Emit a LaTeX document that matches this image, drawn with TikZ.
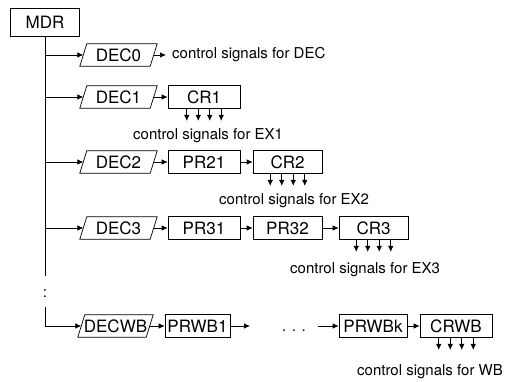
\documentclass[tikz,border=0pt]{standalone}
\usepackage{fontspec}
\setmainfont{TeX Gyre Heros}
\usetikzlibrary{arrows.meta}
\begin{document}
\begin{tikzpicture}[x=1pt,y=-1pt,
  every node/.style={font=\fontsize{17}{19}\selectfont},
  reg/.style={draw, rectangle, minimum height=23pt, inner sep=0pt, line width=0.7pt},
  dec/.style={rectangle, minimum width=70pt, minimum height=22pt, inner sep=0pt},
  sig/.style={font=\fontsize{15}{17}\selectfont, inner sep=0pt, anchor=west},
  arr/.style={-{Latex[length=6pt,width=5.5pt]}, line width=0.7pt},
  wire/.style={line width=0.7pt}]
\useasboundingbox (0,0) rectangle (525,382);

% memory data register
\node[reg, minimum width=69pt, minimum height=28pt] (mdr) at (45,22) {MDR};

% decoders (slanted outlines drawn below)
\node[dec] (d0) at (118.5,55) {DEC0};
\node[dec] (d1) at (118.5,97) {DEC1};
\node[dec] (d2) at (118.5,162) {DEC2};
\node[dec] (d3) at (118.5,228) {DEC3};
\node[dec, minimum width=68pt] (dwb) at (115.5,326) {DECWB};
\foreach \d in {d0,d1,d2,d3,dwb}
  \draw[wire] ([xshift=-3.5pt]\d.south west) -- ([xshift=3.5pt]\d.north west)
    -- ([xshift=3.5pt]\d.north east) -- ([xshift=-3.5pt]\d.south east) -- cycle;

% pipeline registers and control registers
\node[reg, minimum width=72pt] (cr1)   at (204,97)  {CR1};
\node[reg, minimum width=72pt] (pr21)  at (204,162) {PR21};
\node[reg, minimum width=69pt] (cr2)   at (287.5,162) {CR2};
\node[reg, minimum width=72pt] (pr31)  at (204,228) {PR31};
\node[reg, minimum width=69pt] (pr32)  at (287.5,228) {PR32};
\node[reg, minimum width=69pt] (cr3)   at (373.5,228) {CR3};
\node[reg, minimum width=65pt] (prwb1) at (197.5,326) {PRWB1};
\node[reg, minimum width=68pt] (prwbk) at (373,326) {PRWBk};
\node[reg, minimum width=72pt] (crwb)  at (456,326) {CRWB};

% signal labels
\node[sig] (s0)  at (172,55)  {control signals for DEC};
\node[sig] (s1)  at (133,136) {control signals for EX1};
\node[sig] (s2)  at (219,201) {control signals for EX2};
\node[sig] (s3)  at (290,270) {control signals for EX3};
\node[sig] (swb) at (357,372) {control signals for WB};

% trunk from MDR with elided part
\coordinate (gap1) at (45,276);
\node[font=\fontsize{15}{17}\selectfont, inner sep=0pt] (vd) at (45,294) {:};
\coordinate (gap2) at (45,307);
\draw[wire] (mdr.south) -- (gap1);
\draw[arr] (gap2) |- (dwb.west);
\foreach \d in {d0,d1,d2,d3}
  \draw[arr] (mdr.south |- \d.west) -- (\d.west);

% row connections
\draw[arr, shorten >=6pt] (d0.east) -- (s0.west);
\draw[arr] (d1.east) -- (cr1.west);
\draw[arr] (d2.east) -- (pr21.west);
\draw[arr] (pr21.east) -- (cr2.west);
\draw[arr] (d3.east) -- (pr31.west);
\draw[arr] (pr31.east) -- (pr32.west);
\draw[arr] (pr32.east) -- (cr3.west);
\draw[arr] (dwb.east) -- (prwb1.west);
\coordinate (wbg1) at (250,326);
\node[font=\fontsize{15}{17}\selectfont, inner sep=0pt, anchor=base] (dots) at (294,331) {. . .};
\coordinate (wbg2) at (318,326);
\draw[arr] (prwb1.east) -- (wbg1);
\draw[arr] (wbg2) -- (prwbk.west);
\draw[arr] (prwbk.east) -- (crwb.west);

% control signal fan-out
\foreach \c in {cr1,cr2,cr3,crwb}
  \foreach \dx in {-17.25,-5.75,5.75,17.25}
    \draw[arr] ([xshift=\dx pt]\c.south) -- ([xshift=\dx pt, yshift=-12pt]\c.south);
\end{tikzpicture}
\end{document}
